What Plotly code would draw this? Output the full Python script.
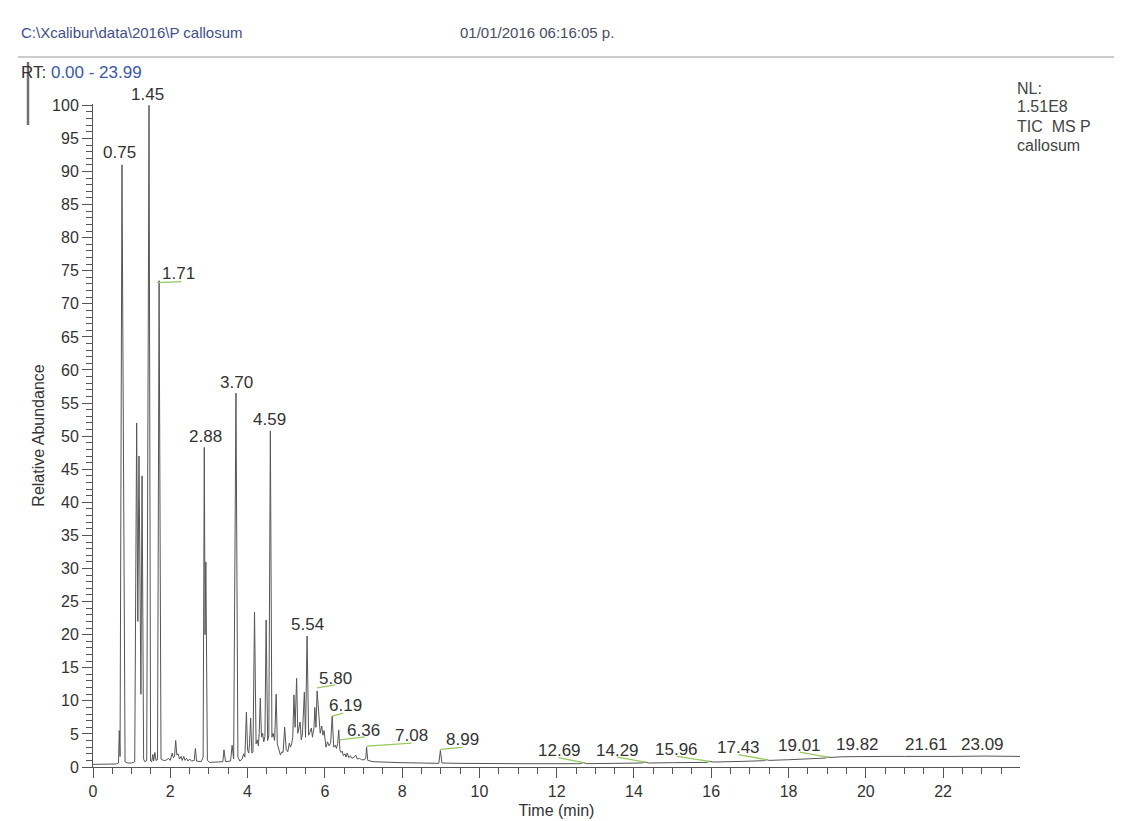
import numpy as np
import plotly.graph_objects as go

# ---------------------------------------------------------------------------
# Total ion chromatogram of the P. callosum extract
# ---------------------------------------------------------------------------
rt_min = [
    0.00, 0.30, 0.60, 0.66, 0.68, 0.70, 0.75, 0.83, 0.90, 1.00,
    1.08, 1.13, 1.16, 1.19, 1.22, 1.24, 1.27, 1.31, 1.34, 1.39,
    1.45, 1.49, 1.52, 1.55, 1.57, 1.60, 1.63, 1.67, 1.71, 1.76,
    1.82, 1.88, 1.96, 2.00, 2.05, 2.08, 2.11, 2.14, 2.17, 2.20,
    2.24, 2.28, 2.31, 2.35, 2.38, 2.42, 2.46, 2.50, 2.55, 2.62,
    2.65, 2.68, 2.80, 2.85, 2.88, 2.90, 2.92, 2.96, 3.02, 3.20,
    3.36, 3.39, 3.43, 3.56, 3.60, 3.64, 3.70, 3.75, 3.80, 3.86,
    3.90, 3.93, 3.97, 4.00, 4.03, 4.05, 4.08, 4.11, 4.14, 4.18,
    4.22, 4.25, 4.28, 4.30, 4.33, 4.36, 4.39, 4.42, 4.45, 4.48,
    4.52, 4.55, 4.59, 4.63, 4.66, 4.70, 4.74, 4.77, 4.80, 4.85,
    4.89, 4.92, 4.96, 5.00, 5.04, 5.08, 5.11, 5.14, 5.17, 5.20,
    5.23, 5.27, 5.30, 5.33, 5.36, 5.39, 5.42, 5.47, 5.50, 5.54,
    5.58, 5.61, 5.65, 5.68, 5.72, 5.74, 5.77, 5.80, 5.84, 5.88,
    5.92, 5.95, 5.98, 6.03, 6.07, 6.11, 6.15, 6.19, 6.23, 6.27,
    6.30, 6.33, 6.36, 6.39, 6.42, 6.45, 6.48, 6.52, 6.55, 6.58,
    6.62, 6.66, 6.70, 6.76, 6.80, 6.84, 6.90, 6.95, 7.03, 7.06,
    7.08, 7.11, 7.25, 7.60, 8.00, 8.50, 8.95, 8.99, 9.03, 9.50,
    10.00, 11.00, 12.00, 12.60, 12.69, 12.78, 13.50, 14.20, 14.29, 14.38,
    15.00, 15.90, 15.96, 16.05, 16.80, 17.35, 17.43, 17.50, 18.00, 18.50,
    18.95, 19.01, 19.10, 19.40, 19.82, 20.50, 21.00, 21.61, 22.20, 23.09,
    23.50, 23.99,
]
rel_abundance = [
    0.4, 0.4, 0.45, 0.6, 5.5, 1.6, 91.0, 0.8, 0.6, 0.6,
    0.8, 52.0, 22.0, 47.0, 17.0, 11.0, 44.0, 1.2, 0.8, 1.0,
    100.0, 0.9, 0.8, 1.9, 0.9, 2.2, 1.0, 1.1, 73.5, 1.2,
    1.0, 1.0, 1.3, 1.0, 2.1, 1.4, 1.6, 4.0, 1.8, 2.0,
    1.2, 1.6, 1.0, 1.6, 1.0, 1.3, 0.9, 1.2, 0.9, 1.0,
    2.8, 0.9, 0.8, 1.5, 48.3, 20.0, 31.0, 1.0, 0.7, 0.7,
    0.8, 2.6, 0.8, 0.9, 3.3, 1.2, 56.5, 1.5, 0.9, 1.2,
    2.0, 1.5, 8.3, 2.6, 2.1, 3.5, 7.4, 2.1, 2.3, 23.4,
    3.5, 4.1, 3.2, 5.0, 10.4, 4.5, 5.1, 3.8, 4.6, 22.2,
    4.0, 4.8, 50.8, 4.5, 5.1, 4.0, 11.0, 3.5, 2.8, 1.8,
    2.3, 2.2, 6.0, 2.6, 2.3, 3.6, 3.0, 3.5, 4.5, 10.9,
    6.0, 13.4, 5.1, 6.2, 6.8, 4.1, 5.0, 11.3, 4.5, 19.8,
    4.8, 5.2, 5.9, 4.5, 6.0, 9.0, 6.0, 11.5, 8.1, 5.1,
    6.2, 4.8, 5.5, 3.0, 3.8, 3.2, 3.6, 7.7, 3.0, 3.3,
    2.8, 3.5, 5.6, 2.6, 2.2, 2.4, 1.7, 2.0, 1.5, 2.1,
    1.4, 1.7, 1.3, 1.5, 1.8, 1.2, 1.3, 1.1, 1.1, 1.4,
    3.0, 1.0, 0.8, 0.7, 0.65, 0.6, 0.55, 2.5, 0.6, 0.55,
    0.5, 0.5, 0.5, 0.5, 0.65, 0.5, 0.55, 0.6, 0.75, 0.6,
    0.65, 0.7, 0.85, 0.75, 0.85, 0.95, 1.1, 1.0, 1.1, 1.25,
    1.35, 1.5, 1.45, 1.55, 1.6, 1.6, 1.6, 1.65, 1.6, 1.65,
    1.6, 1.6,
]

# Retention times annotated on the trace
peak_labels = [0.75, 1.45, 1.71, 2.88, 3.70, 4.59, 5.54, 5.80, 6.19, 6.36,
               7.08, 8.99, 12.69, 14.29, 15.96, 17.43, 19.01, 19.82, 21.61, 23.09]

# Header / run information
file_path = "C:\\Xcalibur\\data\\2016\\P callosum"
run_stamp = "01/01/2016 06:16:05 p."
rt_window = (0.00, 23.99)
info_lines = ["NL:", "1.51E8", "TIC&nbsp; MS P", "callosum"]

x_ticks = list(range(0, 23, 2))
y_ticks = list(range(0, 101, 5))

# ---------------------------------------------------------------------------
# Geometry and styling
# ---------------------------------------------------------------------------
W, H = 1131, 821
L, R, T, B = 93, 111, 104, 54
FONT = "Liberation Sans, Arial, sans-serif"
INK = "#333333"
TRACE = "#555555"
AXIS = "#555555"
GREEN = "#96c85f"
BLUE = "#3a58a6"

# label centre offset (px, +down) from the peak apex
LABEL_OFFSET = {
    0.75: (-2, -12), 1.45: (-2, -11), 1.71: (19, -7), 2.88: (1, -11),
    3.70: (1, -11), 4.59: (-1, -11), 5.54: (0, -11), 5.80: (18, -12),
    6.19: (13, -11), 6.36: (25, 1), 7.08: (45, -12), 8.99: (22, -11),
    12.69: (-24, -12), 14.29: (-28, -12), 15.96: (-33, -12), 17.43: (-28, -12),
    19.01: (-28, -12), 19.82: (-1, -12), 21.61: (-2, -12), 23.09: (-3, -12),
}
# leader segments (x0, y0, x1, y1) in px relative to the apex, +down
LEADERS = {
    1.71: (-2, 2, 22, 1),
    5.80: (0, -3, 18, -6),
    6.19: (0, 0, 11, -3),
    6.36: (1, 10, 26, 7),
    7.08: (0, -1, 45, -4),
    8.99: (0, -1, 22, -3),
    12.69: (-25, -5, 0, 0),
    14.29: (-28, -5, 0, 0),
    15.96: (-33, -5, 0, 0),
    17.43: (-28, -5, 0, 0),
    19.01: (-28, -5, 0, 0),
}

plot_w = W - L - R
plot_h = H - T - B


def px(x):
    return (x - L) / plot_w


def py(y):
    return (H - B - y) / plot_h


fig = go.Figure()
fig.add_trace(go.Scatter(
    x=rt_min, y=rel_abundance, mode="lines",
    line=dict(color=TRACE, width=1), hoverinfo="x+y", showlegend=False,
))

for t in peak_labels:
    h = float(np.interp(t, rt_min, rel_abundance))
    dx, dy = LABEL_OFFSET[t]
    fig.add_annotation(
        x=t, y=h, text=f"{t:.2f}", showarrow=False,
        xanchor="center", yanchor="middle", xshift=dx, yshift=-dy,
        font=dict(family=FONT, size=17, color=INK),
    )
    if t in LEADERS:
        x0, y0, x1, y1 = LEADERS[t]
        fig.add_shape(
            type="line", xref="x", yref="y",
            xsizemode="pixel", ysizemode="pixel", xanchor=t, yanchor=h,
            x0=x0, x1=x1, y0=-y0, y1=-y1,
            line=dict(color=GREEN, width=1.3),
        )

# header text and rule
fig.add_annotation(xref="paper", yref="paper", x=px(19), y=py(33), text=file_path,
                   showarrow=False, xanchor="left", yanchor="middle",
                   font=dict(family=FONT, size=15, color="#3f4f86"))
fig.add_annotation(xref="paper", yref="paper", x=px(458), y=py(33), text=run_stamp,
                   showarrow=False, xanchor="left", yanchor="middle",
                   font=dict(family=FONT, size=15, color="#474c62"))
fig.add_shape(type="line", xref="paper", yref="paper",
              x0=px(18), x1=px(1114), y0=py(57), y1=py(57),
              line=dict(color="#9a9a9a", width=1))
fig.add_annotation(
    xref="paper", yref="paper", x=px(19), y=py(73),
    text=f"RT: <span style='color:{BLUE}'>{rt_window[0]:.2f} - {rt_window[1]:.2f}</span>",
    showarrow=False, xanchor="left", yanchor="middle",
    font=dict(family=FONT, size=17, color=INK))
for i, line in enumerate(info_lines):
    fig.add_annotation(
        xref="paper", yref="paper", x=px(1015), y=py(88 + 19 * i),
        text=line, showarrow=False, xanchor="left", yanchor="middle",
        font=dict(family=FONT, size=16, color="#444444"))
# pen mark beside the RT line
fig.add_shape(type="line", xref="paper", yref="paper",
              x0=px(28), x1=px(28), y0=py(62), y1=py(125),
              line=dict(color="#707070", width=2.5))

fig.update_layout(
    width=W, height=H,
    margin=dict(l=L, r=R, t=T, b=B, pad=0),
    paper_bgcolor="white", plot_bgcolor="white",
    font=dict(family=FONT, size=16, color=INK),
    xaxis=dict(
        range=list(rt_window), tickmode="array", tickvals=x_ticks,
        ticktext=[str(v) for v in x_ticks],
        ticks="outside", ticklen=10, tickwidth=1, tickcolor=AXIS,
        showline=True, linecolor=AXIS, linewidth=1,
        showgrid=False, zeroline=False,
        minor=dict(dtick=0.5, tick0=0, ticks="outside", ticklen=6,
                   tickcolor=AXIS, showgrid=False),
        title=dict(text="Time (min)", standoff=5,
                   font=dict(family=FONT, size=16, color=INK)),
        tickfont=dict(family=FONT, size=16, color=INK),
        automargin=False,
    ),
    yaxis=dict(
        range=[0, 100.2], tickmode="array", tickvals=y_ticks,
        ticktext=[str(v) for v in y_ticks],
        ticks="outside", ticklen=10, tickwidth=1, tickcolor=AXIS,
        showline=True, linecolor=AXIS, linewidth=1,
        showgrid=False, zeroline=False,
        minor=dict(dtick=1, tick0=0, ticks="outside", ticklen=6,
                   tickcolor=AXIS, showgrid=False),
        title=dict(text="Relative Abundance", standoff=3,
                   font=dict(family=FONT, size=16, color=INK)),
        tickfont=dict(family=FONT, size=16, color=INK),
        automargin=False,
    ),
)

fig.write_html("out.html")
